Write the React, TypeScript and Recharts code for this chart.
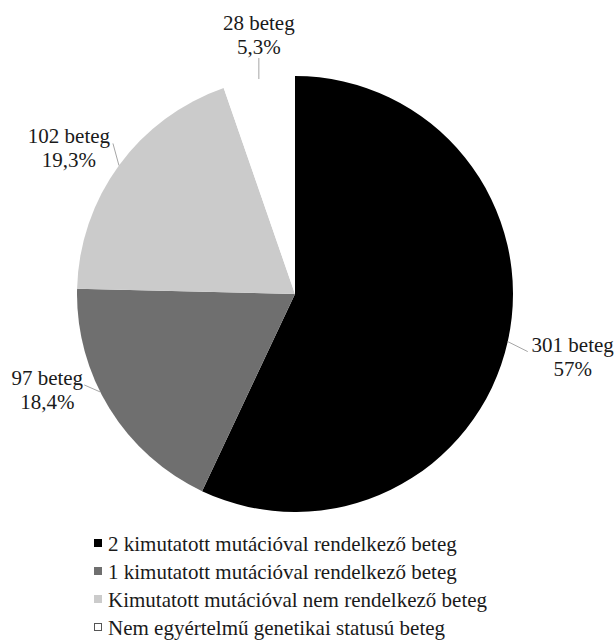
import React from 'react';
import { PieChart, Pie, Cell, Legend } from 'recharts';

const CATEGORIES = [
  '2 kimutatott mutációval rendelkező beteg',
  '1 kimutatott mutációval rendelkező beteg',
  'Kimutatott mutációval nem rendelkező beteg',
  'Nem egyértelmű genetikai statusú beteg',
];
const PATIENTS = [301, 97, 102, 28];
const PERCENT_LABELS = ['57%', '18,4%', '19,3%', '5,3%'];
const COLORS = ['#000000', '#6f6f6f', '#cbcbcb', '#ffffff'];

const data = CATEGORIES.map((name, i) => ({ name, value: PATIENTS[i], pct: PERCENT_LABELS[i] }));

// where each label sits: shift of the leader line on the rim (deg),
// line end relative to the rim point, text relative to the line end
const LABEL_LAYOUT = [
  { shift: 0, line: [20, 10], text: [45, 0] },
  { shift: -5, line: [-16, -7], text: [-37, 0] },
  { shift: 0, line: [-6, -22], text: [-44, 0] },
  { shift: 0, line: [0, -21], text: [0, -28] },
];

const FONT = '"Liberation Serif", "Times New Roman", serif';
const RADIAN = Math.PI / 180;

const renderLabel = (props: any) => {
  const { cx, cy, midAngle, outerRadius, index, payload } = props;
  const lay = LABEL_LAYOUT[index];
  const a = (midAngle + lay.shift) * RADIAN;
  const x0 = cx + outerRadius * Math.cos(-a);
  const y0 = cy + outerRadius * Math.sin(-a);
  const x1 = x0 + lay.line[0];
  const y1 = y0 + lay.line[1];
  const tx = x1 + lay.text[0];
  const ty = y1 + lay.text[1];
  const p = payload.payload || payload;
  return (
    <g>
      <line x1={x0} y1={y0} x2={x1} y2={y1} stroke="#a6a6a6" strokeWidth={1} />
      <text x={tx} y={ty} textAnchor="middle" fontFamily={FONT} fontSize={21} fill="#1a1a1a">
        <tspan x={tx} y={ty}>{`${p.value} beteg`}</tspan>
        <tspan x={tx} y={ty + 24}>{p.pct}</tspan>
      </text>
    </g>
  );
};

const renderLegend = () => (
  <div style={{ fontFamily: FONT, fontSize: 21, color: '#1a1a1a' }}>
    {data.map((d, i) => (
      <div key={d.name} style={{ display: 'flex', alignItems: 'center', height: 28, lineHeight: '28px' }}>
        <span
          style={{
            display: 'inline-block',
            width: 8,
            height: 8,
            marginTop: -2,
            marginRight: 6,
            boxSizing: 'border-box',
            background: COLORS[i],
            border: i === 3 ? '1px solid #555' : 'none',
          }}
        />
        <span>{d.name}</span>
      </div>
    ))}
  </div>
);

export default function App() {
  return (
    <div
      style={{
        position: 'fixed',
        left: 0,
        top: 0,
        width: 616,
        height: 642,
        overflow: 'hidden',
        background: '#fff',
      }}
    >
      <PieChart width={616} height={642} margin={{ top: 0, right: 0, bottom: 0, left: 0 }}>
        <Pie
          data={data}
          dataKey="value"
          nameKey="name"
          cx={295}
          cy={294}
          outerRadius={218}
          startAngle={90}
          endAngle={-270}
          stroke="none"
          label={renderLabel}
          labelLine={false}
          isAnimationActive={false}
        >
          {data.map((d, i) => (
            <Cell key={d.name} fill={COLORS[i]} />
          ))}
        </Pie>
        <Legend
          content={renderLegend}
          wrapperStyle={{ position: 'absolute', left: 94, top: 530, bottom: 'auto', width: 520 }}
        />
      </PieChart>
    </div>
  );
}
